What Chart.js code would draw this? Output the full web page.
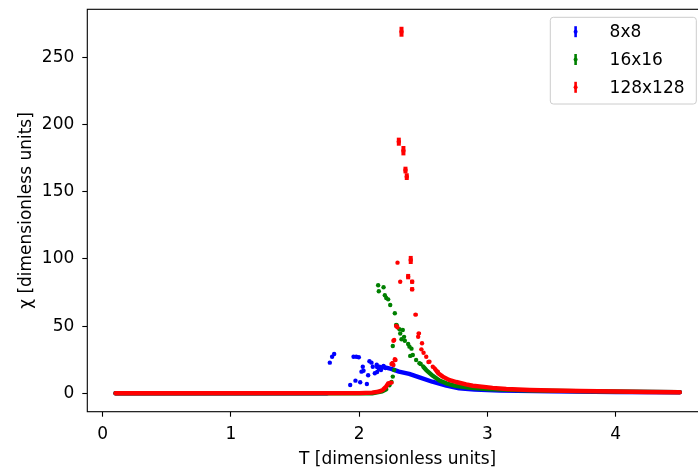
<!DOCTYPE html>
<html>
<head>
<meta charset="utf-8">
<script src="https://cdn.jsdelivr.net/npm/chart.js@4"></script>
<style>
  html, body { margin: 0; padding: 0; background: #fff; overflow: hidden; }
  canvas { display: block; }
</style>
</head>
<body>
<canvas id="chart" width="712" height="472"></canvas>
<script>
// lattice sizes (legend)
const sizeLabels = ["8x8", "16x16", "128x128"];
const sizeColors = ["#0000ff", "#008000", "#ff0000"];

// tick labels
const xTickValues = [0, 1, 2, 3, 4];
const yTickValues = [0, 50, 100, 150, 200, 250];

// 8x8 : smooth parts (flat low-T region + high-T tail)
const blueFlatT = [0.1, 1.75];
const blueFlatChi = [0, 0];
const blueTailT = [2.14, 2.2, 2.25, 2.31, 2.39, 2.47, 2.57, 2.68, 2.78, 2.9, 3.1, 3.5, 4.0, 4.5];
const blueTailChi = [19.5, 19.3, 18.2, 16.1, 14.4, 11.9, 8.6, 5.7, 3.7, 2.7, 2.0, 1.4, 1.0, 0.8];
// 8x8 : scattered points near Tc
const blueScatterT = [1.771, 1.789, 1.805, 1.93, 1.956, 1.971, 1.977, 1.997, 2.008, 2.018, 2.028, 2.034, 2.06, 2.07, 2.08, 2.096, 2.106, 2.122, 2.137, 2.14, 2.153, 2.158, 2.17, 2.19, 2.205];
const blueScatterChi = [22.8, 27.2, 29.2, 6.2, 27.2, 9.4, 27.2, 26.8, 8.2, 16.1, 19.8, 16.8, 6.9, 13.4, 23.8, 22.8, 19.8, 14.9, 21.3, 15.8, 18.3, 19.8, 17.3, 20.3, 18.8];

// 16x16
const greenFlatT = [0.1, 2.1, 2.18, 2.211];
const greenFlatChi = [0, 0, 1.5, 3.0];
const greenTailT = [2.5, 2.523, 2.574, 2.626, 2.679, 2.75, 2.85, 3.0, 3.3, 3.7, 4.1, 4.5];
const greenTailChi = [19.8, 17.3, 13.0, 9.5, 7.4, 5.5, 4.2, 3.1, 2.2, 1.6, 1.2, 0.9];
const greenScatterT = [2.148, 2.153, 2.19, 2.2, 2.211, 2.226, 2.236, 2.242, 2.252, 2.262, 2.262, 2.273, 2.278, 2.288, 2.293, 2.314, 2.32, 2.33, 2.34, 2.35, 2.356, 2.382, 2.392, 2.398, 2.408, 2.418, 2.444, 2.47, 2.48];
const greenScatterChi = [80.4, 75.9, 78.9, 72.9, 70.9, 69.9, 6.0, 65.7, 8.4, 12.4, 35.2, 17.3, 59.5, 50.8, 50.6, 47.6, 44.5, 40.2, 47.1, 42.0, 39.1, 36.7, 34.7, 27.8, 33.2, 28.5, 24.8, 22.3, 21.8];

// 128x128
const redFlatT = [0.1, 2.0, 2.1, 2.15, 2.184, 2.21, 2.226, 2.252];
const redFlatChi = [0, 0.1, 0.5, 1.2, 2.5, 4.9, 7.4, 7.9];
const redTailT = [2.59, 2.616, 2.652, 2.7, 2.757, 2.834, 2.886, 2.99, 3.04, 3.147, 3.33, 3.5, 3.72, 4.0, 4.25, 4.5];
const redTailChi = [18.3, 14.9, 12.4, 10.0, 8.4, 6.6, 5.6, 4.6, 4.0, 3.2, 2.5, 2.1, 1.7, 1.3, 1.0, 0.75];
const redScatterT = [2.33, 2.309, 2.345, 2.361, 2.371, 2.402, 2.299, 2.382, 2.413, 2.32, 2.413, 2.44, 2.288, 2.298, 2.465, 2.46, 2.267, 2.273, 2.49, 2.485, 2.502, 2.523, 2.278, 2.283, 2.252, 2.267, 2.26, 2.54, 2.548, 2.574, 2.613];
const redScatterChi = [269, 187.2, 180.5, 166.1, 161.2, 99.2, 97.2, 86.8, 83.0, 83.0, 77.4, 58.5, 50.1, 49.1, 44.6, 42.1, 39.1, 39.7, 37.2, 32.7, 30.2, 27.2, 25.3, 24.8, 21.8, 21.0, 22.5, 23.3, 23.5, 19.8, 16.1];
const redScatterErr = [3.7, 3.0, 3.5, 2.5, 2.5, 3.0, 0, 2.0, 1.5, 0, 1.5, 1.0, 0, 0, 1.0, 0, 0, 0, 0.5, 0, 0, 0, 0, 0, 0, 0, 0, 0, 0, 0, 0];

function pts(ts, cs) {
  return ts.map((t, i) => ({ x: t, y: cs[i] }));
}

function curve(ts, cs, k) {
  return {
    data: pts(ts, cs), showLine: true, borderColor: sizeColors[k], borderWidth: 4.4,
    borderCapStyle: "round", borderJoinStyle: "round", pointRadius: 0, order: 3 - k
  };
}

function scatter(ts, cs, k, errs) {
  return {
    data: pts(ts, cs), showLine: false, pointRadius: 2.2, pointBorderWidth: 0,
    backgroundColor: sizeColors[k], borderColor: sizeColors[k], order: 3 - k, errs: errs
  };
}

const errorBars = {
  id: "errorBars",
  afterDatasetsDraw(c) {
    const ctx = c.ctx, xs = c.scales.x, ys = c.scales.y;
    c.data.datasets.forEach(ds => {
      if (!ds.errs) return;
      ctx.save();
      ctx.strokeStyle = ds.borderColor;
      ctx.lineWidth = 4;
      ds.data.forEach((p, i) => {
        const e = ds.errs[i];
        if (!e) return;
        const px = xs.getPixelForValue(p.x);
        ctx.beginPath();
        ctx.moveTo(px, ys.getPixelForValue(p.y - e));
        ctx.lineTo(px, ys.getPixelForValue(p.y + e));
        ctx.stroke();
      });
      ctx.restore();
    });
  }
};

const frame = {
  id: "frame",
  afterDraw(c) {
    const a = c.chartArea, ctx = c.ctx;
    ctx.save();
    ctx.strokeStyle = "#000";
    ctx.lineWidth = 1.1;
    ctx.strokeRect(a.left, a.top, a.right - a.left, a.bottom - a.top);
    ctx.restore();
  }
};

const legendBox = {
  id: "legendBox",
  afterDraw(c) {
    const a = c.chartArea, ctx = c.ctx;
    const left = a.right - 157.7, top = a.top + 8, w = 146, h = 86.7;
    ctx.save();
    ctx.beginPath();
    ctx.roundRect(left, top, w, h, 3);
    ctx.fillStyle = "rgba(255,255,255,0.8)";
    ctx.fill();
    ctx.strokeStyle = "#cccccc";
    ctx.lineWidth = 1;
    ctx.stroke();
    ctx.font = "17px 'DejaVu Sans'";
    ctx.textBaseline = "middle";
    sizeLabels.forEach((lab, i) => {
      const y = top + 14.4 + i * 27.8;
      const mx = left + 25.3;
      ctx.strokeStyle = sizeColors[i];
      ctx.lineWidth = 2.6;
      ctx.beginPath();
      ctx.moveTo(mx, y - 5.5);
      ctx.lineTo(mx, y + 5.5);
      ctx.stroke();
      ctx.fillStyle = sizeColors[i];
      ctx.beginPath();
      ctx.arc(mx, y, 2, 0, Math.PI * 2);
      ctx.fill();
      ctx.fillStyle = "#000";
      ctx.fillText(lab, left + 59.3, y + 1);
    });
    ctx.restore();
  }
};

const tickFont = { family: "DejaVu Sans", size: 17 };

new Chart(document.getElementById("chart"), {
  type: "scatter",
  data: {
    datasets: [
      curve(blueFlatT, blueFlatChi, 0),
      curve(blueTailT, blueTailChi, 0),
      scatter(blueScatterT, blueScatterChi, 0, null),
      curve(greenFlatT, greenFlatChi, 1),
      curve(greenTailT, greenTailChi, 1),
      scatter(greenScatterT, greenScatterChi, 1, null),
      curve(redFlatT, redFlatChi, 2),
      curve(redTailT, redTailChi, 2),
      scatter(redScatterT, redScatterChi, 2, redScatterErr)
    ]
  },
  options: {
    responsive: false,
    animation: false,
    layout: { padding: { top: 9.3, right: 3.6, left: 0, bottom: 0 } },
    plugins: { legend: { display: false }, tooltip: { enabled: false } },
    scales: {
      x: {
        type: "linear", min: -0.12, max: 4.72,
        afterBuildTicks: s => { s.ticks = xTickValues.map(v => ({ value: v })); },
        afterFit: s => { s.height = 60.3; s.paddingLeft = 0; s.paddingRight = 0; },
        border: { display: false },
        grid: { drawOnChartArea: false, drawTicks: true, tickLength: 5, tickColor: "#000", tickWidth: 1.1 },
        ticks: { font: tickFont, color: "#000", padding: 8, maxRotation: 0 },
        title: { display: true, text: "T [dimensionless units]", font: tickFont, color: "#000", padding: { top: 0, bottom: 2 } }
      },
      y: {
        type: "linear", min: -13.7, max: 285.7,
        afterBuildTicks: s => { s.ticks = yTickValues.map(v => ({ value: v })); },
        afterFit: s => { s.width = 87.3; s.paddingTop = 0; s.paddingBottom = 0; },
        border: { display: false },
        grid: { drawOnChartArea: false, drawTicks: true, tickLength: 5, tickColor: "#000", tickWidth: 1.1 },
        ticks: { font: tickFont, color: "#000", padding: 8 },
        title: { display: true, text: "χ [dimensionless units]", font: tickFont, color: "#000", padding: { top: 16, bottom: 0 } }
      }
    }
  },
  plugins: [errorBars, frame, legendBox]
});
</script>
</body>
</html>
